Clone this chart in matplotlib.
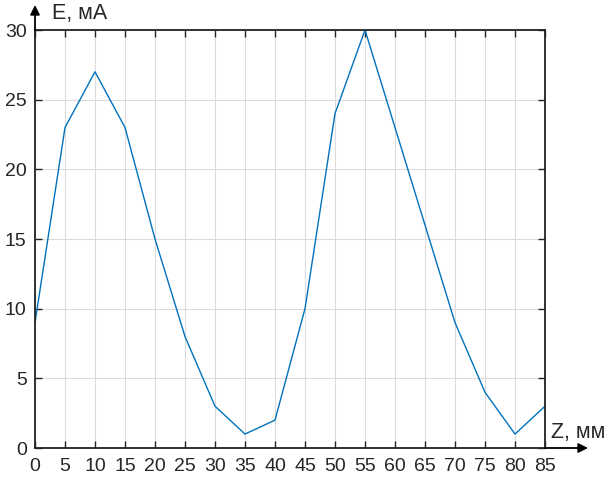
import matplotlib
matplotlib.use("Agg")
import matplotlib.pyplot as plt

z = [0, 5, 10, 15, 20, 25, 30, 35, 40, 45, 50, 55, 60, 65, 70, 75, 80, 85]
e = [9, 23, 27, 23, 15, 8, 3, 1, 2, 10, 24, 30, 23, 16, 9, 4, 1, 3]
xticks = list(range(0, 90, 5))
yticks = [0, 5, 10, 15, 20, 25, 30]

plt.rcParams['font.family'] = ['Liberation Sans', 'DejaVu Sans']

fig = plt.figure(figsize=(6.08, 4.86), dpi=100)
ax = fig.add_axes([35/608, 38/486, 510/608, 418/486])
ax.plot(z, e, color='#0072BD', lw=1.0)
ax.set_xlim(0, 85)
ax.set_ylim(0, 30)
ax.set_xticks(xticks)
ax.set_yticks(yticks)
ax.grid(True, color='#dcdcdc', lw=0.8)
ax.set_axisbelow(True)
ax.tick_params(direction='in', top=True, right=True, length=5, width=1,
               labelsize=14, colors='#222222', labelcolor='#262626')
ax.tick_params(axis='x', pad=7)
ax.tick_params(axis='y', pad=6)
for s in ax.spines.values():
    s.set_color('#222222')
    s.set_linewidth(1.3)

# axis arrows
ax.annotate('', xy=(588/608, 38/486), xytext=(545/608, 38/486),
            xycoords='figure fraction',
            arrowprops=dict(arrowstyle='-|>', color='black', lw=1.3,
                            mutation_scale=14, shrinkA=0, shrinkB=0))
ax.annotate('', xy=(35/608, 481/486), xytext=(35/608, 456/486),
            xycoords='figure fraction',
            arrowprops=dict(arrowstyle='-|>', color='black', lw=1.3,
                            mutation_scale=14, shrinkA=0, shrinkB=0))
fig.text(52/608, 472/486, 'E, мА', fontsize=15.5, color='#262626', va='center', ha='left')
fig.text(551/608, 54/486, 'Z, мм', fontsize=15.5, color='#262626', va='center', ha='left')

fig.savefig('out.png', dpi=100)
